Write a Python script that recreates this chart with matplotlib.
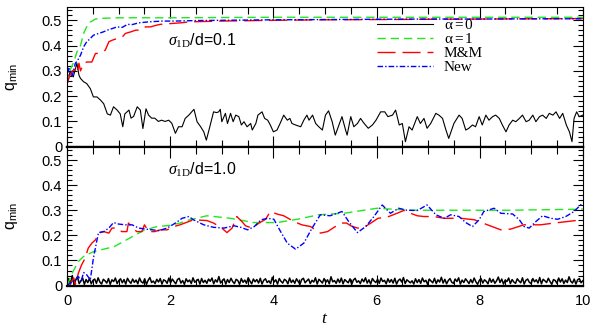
import numpy as np
import matplotlib
matplotlib.use('Agg')
import matplotlib.pyplot as plt
from matplotlib.ticker import MultipleLocator

plt.rcParams['font.family'] = 'Liberation Sans'
plt.rcParams['mathtext.fontset'] = 'custom'
plt.rcParams['mathtext.rm'] = 'Liberation Serif'
plt.rcParams['mathtext.it'] = 'Liberation Serif:italic'
plt.rcParams['mathtext.sf'] = 'Liberation Sans'

# ---- top panel, sigma_1D/d = 0.1 ----
t_top_a0 = [0, 0.06, 0.12, 0.19, 0.23, 0.26, 0.32, 0.38, 0.45, 0.51,
            0.58, 0.65, 0.71, 0.78, 0.84, 0.90, 0.97, 1.03, 1.08, 1.12,
            1.20, 1.24, 1.29, 1.36, 1.42, 1.47, 1.53, 1.58, 1.64, 1.70,
            1.77, 1.83, 1.90, 1.97, 2.03, 2.10, 2.16, 2.23, 2.29, 2.36,
            2.46, 2.52, 2.59, 2.65, 2.70, 2.76, 2.84, 2.90, 2.94, 2.97,
            3.00, 3.07, 3.11, 3.17, 3.22, 3.27, 3.33, 3.38, 3.43, 3.49,
            3.56, 3.59, 3.66, 3.70, 3.78, 3.83, 3.89, 3.94, 4.00, 4.07,
            4.13, 4.20, 4.27, 4.32, 4.36, 4.43, 4.53, 4.59, 4.65, 4.69,
            4.76, 4.82, 4.88, 4.95, 5.01, 5.07, 5.14, 5.20, 5.27, 5.33,
            5.40, 5.43, 5.50, 5.56, 5.63, 5.69, 5.76, 5.84, 5.92, 5.99,
            6.08, 6.16, 6.22, 6.31, 6.37, 6.44, 6.50, 6.56, 6.63, 6.69,
            6.79, 6.85, 6.92, 6.98, 7.05, 7.15, 7.21, 7.28, 7.34, 7.40,
            7.50, 7.60, 7.66, 7.73, 7.79, 7.86, 7.92, 7.99, 8.05, 8.12,
            8.18, 8.25, 8.31, 8.38, 8.44, 8.51, 8.57, 8.64, 8.70, 8.77,
            8.83, 8.90, 8.96, 9.03, 9.09, 9.16, 9.22, 9.29, 9.35, 9.42,
            9.48, 9.55, 9.61, 9.68, 9.74, 9.79, 9.83, 9.88, 9.93, 10.0]
q_top_a0 = [0.244, 0.30, 0.276, 0.33, 0.283, 0.27, 0.257, 0.25, 0.23, 0.197,
            0.197, 0.184, 0.17, 0.13, 0.125, 0.158, 0.145, 0.13, 0.079, 0.13,
            0.145, 0.113, 0.12, 0.158, 0.145, 0.072, 0.15, 0.125, 0.113, 0.113,
            0.10, 0.105, 0.10, 0.105, 0.093, 0.053, 0.079, 0.079, 0.112, 0.125,
            0.148, 0.099, 0.079, 0.059, 0.026, 0.073, 0.138, 0.135, 0.138, 0.148,
            0.099, 0.132, 0.092, 0.132, 0.099, 0.125, 0.119, 0.086, 0.099, 0.079,
            0.092, 0.066, 0.092, 0.125, 0.138, 0.112, 0.105, 0.086, 0.059, 0.066,
            0.092, 0.125, 0.105, 0.112, 0.092, 0.086, 0.079, 0.105, 0.125, 0.105,
            0.125, 0.092, 0.079, 0.066, 0.125, 0.142, 0.099, 0.046, 0.086, 0.119,
            0.066, 0.046, 0.119, 0.079, 0.092, 0.112, 0.092, 0.073, 0.086, 0.105,
            0.138, 0.138, 0.119, 0.125, 0.145, 0.086, 0.092, 0.02, 0.079, 0.066,
            0.119, 0.092, 0.112, 0.073, 0.092, 0.132, 0.125, 0.112, 0.07, 0.033,
            0.092, 0.125, 0.112, 0.066, 0.073, 0.086, 0.079, 0.119, 0.086, 0.125,
            0.105, 0.119, 0.125, 0.112, 0.086, 0.059, 0.086, 0.105, 0.099, 0.112,
            0.125, 0.099, 0.105, 0.125, 0.099, 0.119, 0.125, 0.112, 0.132, 0.125,
            0.138, 0.112, 0.132, 0.086, 0.059, 0.02, 0.112, 0.138, 0.119, 0.125]

t_top_a1 = [0, 0.05, 0.13, 0.19, 0.26, 0.32, 0.38, 0.45, 0.55, 0.7, 1.0, 2.0, 4.0, 6.0, 8.0, 10.0]
q_top_a1 = [0.25, 0.30, 0.335, 0.375, 0.40, 0.448, 0.474, 0.493, 0.505, 0.508, 0.51, 0.51,
            0.512, 0.512, 0.512, 0.512]

t_top_mm = [0, 0.05, 0.1, 0.16, 0.2, 0.23, 0.26, 0.32, 0.38, 0.48, 0.55, 0.61, 0.68,
            0.74, 0.81, 0.87, 0.97, 1.07, 1.13, 1.23, 1.33, 1.42, 1.52, 1.62, 1.72,
            1.81, 2.0, 2.2, 2.39, 3, 4, 5, 6, 7, 8, 9, 10]
q_top_mm = [0.25, 0.28, 0.30, 0.306, 0.29, 0.33, 0.30, 0.33, 0.335, 0.335, 0.369, 0.369, 0.375,
            0.382, 0.415, 0.421, 0.428, 0.434, 0.448, 0.454, 0.461, 0.461, 0.474, 0.474, 0.48,
            0.484, 0.487, 0.49, 0.494, 0.497, 0.50, 0.502, 0.503, 0.504, 0.505, 0.506, 0.507]

t_top_new = [0, 0.03, 0.06, 0.10, 0.16, 0.2, 0.26, 0.32, 0.38, 0.45, 0.51, 0.61, 0.7, 0.78,
             0.87, 0.97, 1.07, 1.17, 1.26, 1.39, 1.59, 1.85, 2.1, 2.5, 3, 4, 5, 6, 7, 8, 9, 10]
q_top_new = [0.25, 0.31, 0.30, 0.28, 0.33, 0.34, 0.362, 0.395, 0.415, 0.428, 0.441, 0.448, 0.454,
             0.461, 0.467, 0.474, 0.472, 0.484, 0.483, 0.49, 0.494, 0.497, 0.497, 0.499, 0.50,
             0.502, 0.503, 0.504, 0.505, 0.505, 0.506, 0.506]

# ---- bottom panel, sigma_1D/d = 1.0 ----
# alpha=0 stays in a noisy band near zero (values in units of 1e-3)
q_bot_a0_milli = [
    3, 28, 6, 40, 4, 22, 35, 8, 18, 30, 5, 24, 12, 29, 7, 21, 26, 9, 31, 14,
    6, 25, 19, 10, 28, 5, 23, 16, 30, 8, 20, 27, 11, 24, 6, 29, 17, 9, 26, 13,
    22, 7, 30, 15, 10, 27, 5, 21, 32, 12, 18, 8, 25, 14, 28, 6, 23, 19, 9, 30,
    11, 26, 16, 7, 24, 29, 10, 20, 5, 27, 15, 22, 8, 31, 13, 19, 25, 6, 28, 12,
    21, 9, 26, 17, 30, 7, 23, 14, 36, 10, 19, 27, 6, 24, 12, 29, 16, 8, 25, 20,
    5, 28, 13, 22, 9, 31, 18, 7, 26, 15, 24, 10, 29, 6, 21, 27, 12, 19, 8, 33,
    14, 23, 6, 28, 17, 10, 25, 20, 7, 30, 12, 22, 9, 27, 16, 5, 24, 29, 11, 19,
    26, 8, 21, 14, 31, 6, 25, 18, 10, 28, 13, 23, 7, 35, 15, 20, 9, 26, 12, 30,
    7, 24, 17, 11, 27, 5, 22, 29, 13, 19, 8, 26, 15, 31, 10, 23, 6, 28, 18, 12,
    25, 9, 30, 16, 21, 7, 27, 13, 24, 10, 29, 6, 20, 26, 14, 32, 8, 23, 17, 11,
    19, 6, 27, 12, 24, 9, 30, 15, 21, 5, 26, 18, 11, 29, 8, 23, 14, 33, 10, 25,
    7, 20, 28, 13, 9, 26, 16, 31, 6, 22, 12, 27, 18, 8, 24, 11, 30, 15, 5, 21,
    28, 10, 23, 17, 7, 29, 13, 25, 9, 19, 34, 12, 26, 6, 22, 16, 30, 8, 24, 14,
    9, 27, 18, 11, 31, 6, 21, 26, 13, 8, 28, 15, 23, 10, 32, 7, 25, 19, 12, 29,
    16, 5, 24, 20, 9, 30, 14, 27, 8, 22, 12, 35, 17, 10, 26, 6, 23, 28, 11, 19]

t_bot_a1 = [0, 0.1, 0.22, 0.32, 0.51, 0.71, 0.91, 1.09, 1.29, 1.48, 1.74, 2.0, 2.19, 2.32,
            2.71, 3.17, 3.62, 4.07, 4.46, 4.88, 5.37, 6.01, 6.66, 7.44, 8.54, 9.9, 10.0]
q_bot_a1 = [0, 0.05, 0.096, 0.116, 0.135, 0.145, 0.155, 0.175, 0.198, 0.219, 0.235, 0.24, 0.249,
            0.259, 0.278, 0.268, 0.251, 0.251, 0.264, 0.282, 0.288, 0.308, 0.30, 0.30, 0.30,
            0.304, 0.305]

t_bot_mm = [0, 0.06, 0.13, 0.16, 0.22, 0.28, 0.35, 0.41, 0.48, 0.55,
            0.61, 0.71, 0.81, 0.87, 0.97, 1.06, 1.16, 1.19, 1.25, 1.35,
            1.45, 1.5, 1.58, 1.7, 1.81, 1.94, 2.07, 2.19, 2.45, 2.71,
            2.84, 3.0, 3.1, 3.2, 3.29, 3.39, 3.46, 3.59, 3.72, 3.85,
            3.94, 4.07, 4.2, 4.4, 4.55, 4.72, 4.91, 5.05, 5.2, 5.33,
            5.42, 5.5, 5.63, 5.76, 5.89, 6.03, 6.2, 6.36, 6.53, 6.66,
            6.79, 6.92, 7.11, 7.31, 7.63, 7.9, 8.15, 8.41, 8.6, 8.86,
            9.18, 9.44, 9.7, 9.98]
q_bot_mm = [0, 0.01, 0.03, 0.005, 0.05, 0.082, 0.109, 0.149, 0.169, 0.182,
            0.209, 0.215, 0.209, 0.229, 0.229, 0.215, 0.215, 0.249, 0.235, 0.215,
            0.215, 0.242, 0.215, 0.215, 0.222, 0.222, 0.235, 0.242, 0.262, 0.259,
            0.249, 0.229, 0.211, 0.229, 0.275, 0.255, 0.238, 0.229, 0.249, 0.264,
            0.295, 0.285, 0.278, 0.255, 0.242, 0.235, 0.209, 0.215, 0.235, 0.249,
            0.249, 0.238, 0.229, 0.232, 0.249, 0.268, 0.272, 0.285, 0.299, 0.288,
            0.278, 0.275, 0.275, 0.268, 0.268, 0.262, 0.242, 0.222, 0.225, 0.242,
            0.242, 0.249, 0.255, 0.262]

t_bot_new = [0, 0.06, 0.16, 0.22, 0.27, 0.32, 0.38, 0.45, 0.51, 0.58,
             0.61, 0.71, 0.81, 0.9, 1.0, 1.13, 1.26, 1.39, 1.52, 1.65,
             1.78, 1.94, 2.1, 2.23, 2.36, 2.45, 2.65, 2.84, 3.04, 3.24,
             3.37, 3.5, 3.63, 3.76, 3.89, 4.01, 4.14, 4.27, 4.43, 4.59,
             4.75, 4.91, 5.1, 5.33, 5.46, 5.63, 5.79, 5.95, 6.11, 6.27,
             6.43, 6.59, 6.79, 6.98, 7.15, 7.31, 7.44, 7.6, 7.73, 7.86,
             7.99, 8.08, 8.28, 8.41, 8.64, 8.77, 8.86, 8.96, 9.09, 9.22,
             9.38, 9.51, 9.67, 9.83, 9.99]
q_bot_new = [0, 0.01, 0.023, 0.036, 0.015, 0.052, 0.043, 0.023, 0.109, 0.182,
             0.211, 0.215, 0.229, 0.251, 0.245, 0.242, 0.242, 0.229, 0.225, 0.222,
             0.219, 0.229, 0.249, 0.268, 0.275, 0.262, 0.242, 0.232, 0.229, 0.238,
             0.232, 0.222, 0.235, 0.262, 0.268, 0.264, 0.215, 0.169, 0.145, 0.169,
             0.229, 0.282, 0.278, 0.295, 0.255, 0.211, 0.235, 0.275, 0.321, 0.288,
             0.308, 0.30, 0.299, 0.321, 0.282, 0.268, 0.282, 0.275, 0.251, 0.235,
             0.262, 0.295, 0.308, 0.288, 0.285, 0.262, 0.235, 0.229, 0.255, 0.278,
             0.268, 0.264, 0.275, 0.295, 0.328]

labels = [r'$\mathrm{\alpha=0}$', r'$\mathrm{\alpha=1}$', 'M&M', 'New']
ytick_vals = [0, 0.1, 0.2, 0.3, 0.4, 0.5]
ytick_labels = ['0', '0.1', '0.2', '0.3', '0.4', '0.5']

green = '#22e622'
sty_a0 = dict(color='black', lw=0.8, ls='-')
sty_a1 = dict(color=green, lw=1.0, ls=(0, (6, 3.5)))
sty_mm = dict(color='red', lw=1.0, ls=(0, (13, 5)))
sty_new = dict(color='blue', lw=1.0, ls=(0, (4, 1.5, 1, 1.5)))

fig = plt.figure(figsize=(5.99, 3.29), dpi=100)
ax1 = fig.add_axes([0.112, 0.554, 0.861, 0.425])
ax2 = fig.add_axes([0.112, 0.132, 0.861, 0.422], sharex=ax1)

l0, = ax1.plot(t_top_a0, q_top_a0, **sty_a0)
l1, = ax1.plot(t_top_a1, q_top_a1, **sty_a1)
l2, = ax1.plot(t_top_mm, q_top_mm, **sty_mm)
l3, = ax1.plot(t_top_new, q_top_new, **sty_new)

t_bot_a0 = np.linspace(0, 10, len(q_bot_a0_milli))
ax2.plot(t_bot_a0, np.array(q_bot_a0_milli) / 1000., color='black', lw=1.1)
ax2.plot(t_bot_a1, q_bot_a1, **sty_a1)
ax2.plot(t_bot_mm, q_bot_mm, **sty_mm)
ax2.plot(t_bot_new, q_bot_new, **sty_new)

for ax in ax1, ax2:
    ax.set_xlim(0, 10)
    ax.set_ylim(0, 0.553)
    ax.set_yticks(ytick_vals)
    ax.set_yticklabels(ytick_labels)
    ax.yaxis.set_minor_locator(MultipleLocator(0.02))
    ax.xaxis.set_major_locator(MultipleLocator(2))
    ax.xaxis.set_minor_locator(MultipleLocator(0.5))
    ax.tick_params(which='both', direction='in', top=True, right=True, labelsize=10.5)
    ax.tick_params(axis='x', which='major', length=8, width=0.8)
    ax.tick_params(axis='x', which='minor', length=5, width=0.8)
    ax.tick_params(axis='y', which='major', length=7, width=0.8)
    ax.tick_params(axis='y', which='minor', length=3.5, width=0.8)
    for s in ax.spines.values():
        s.set_linewidth(0.8)
    ax.spines['bottom'].set_linewidth(1.6)
    ax.set_ylabel(r'q$_{\mathsf{min}}$', fontsize=11.5)
    ax.yaxis.set_label_coords(-0.092, 0.5)

ax1.tick_params(labelbottom=False)
ax2.spines['top'].set_linewidth(1.6)
ax2.tick_params(axis='x', pad=6)
ax2.set_xlabel(r'$t$', fontsize=12.5, labelpad=2)

ax1.text(0.196, 0.72, r'$\sigma_{\mathrm{1D}}$/d=0.1', transform=ax1.transAxes, fontsize=11.5)
ax2.text(0.196, 0.80, r'$\sigma_{\mathrm{1D}}$/d=1.0', transform=ax2.transAxes, fontsize=11.5)

ax1.legend([l0, l1, l2, l3], labels, loc='upper left', bbox_to_anchor=(0.60, 0.92),
           frameon=False, borderpad=0, borderaxespad=0, handlelength=3.7,
           handletextpad=0.7, labelspacing=0.02,
           prop={'family': 'Liberation Serif', 'size': 11})

fig.savefig('out.png', dpi=100)
